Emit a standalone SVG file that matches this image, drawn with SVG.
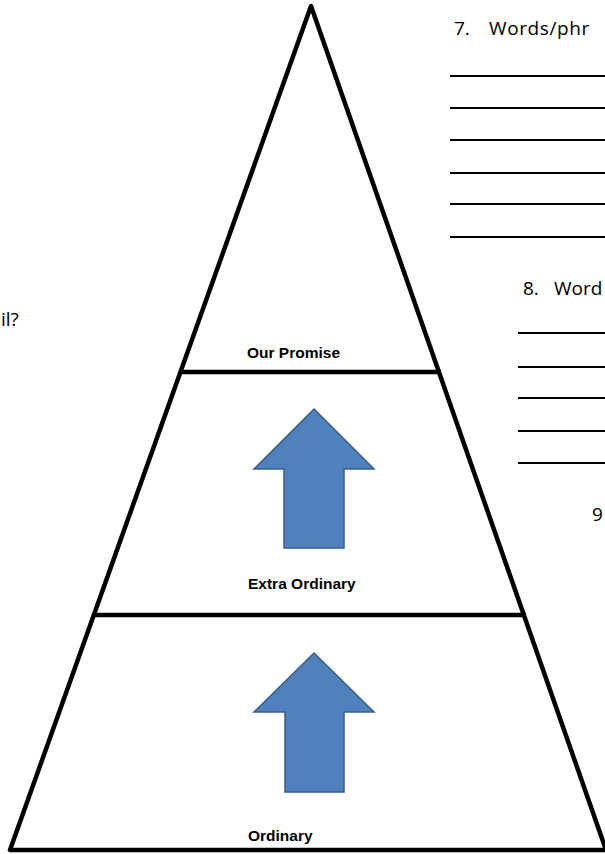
<svg xmlns="http://www.w3.org/2000/svg" width="605" height="854" viewBox="0 0 605 854">
  <style>
    .edge { fill: none; stroke: #000; stroke-width: 4.5; stroke-linejoin: round; }
    .tier { stroke: #000; stroke-width: 4.5; }
    .rule { stroke: #000; stroke-width: 2; }
    .arrow { fill: #4F81BD; stroke: #385D8A; stroke-width: 1.5; }
    .lbl { font-family: "Liberation Sans", Arial, sans-serif; font-weight: bold; font-size: 15.5px; fill: #000; }
    .q { font-family: "Open Sans", "Liberation Sans", sans-serif; font-size: 19px; fill: #000; }
  </style>
  <rect width="605" height="854" fill="#fff"/>

  <g id="pyramid">
    <polygon class="edge" points="311,6 10,850 606,850"/>
    <line class="tier" x1="180" y1="372" x2="441" y2="372"/>
    <line class="tier" x1="94" y1="615" x2="526" y2="615"/>
  </g>

  <g id="tier-our-promise">
    <text class="lbl" x="247" y="358">Our Promise</text>
  </g>

  <g id="tier-extra-ordinary">
    <polygon class="arrow" points="314,409 374,469 344,469 344,548 284,548 284,469 254,469"/>
    <text class="lbl" x="248" y="589">Extra Ordinary</text>
  </g>

  <g id="tier-ordinary">
    <polygon class="arrow" points="314,653 374,712 344,712 344,792 285,792 285,712 254,712"/>
    <text class="lbl" x="248" y="841">Ordinary</text>
  </g>

  <g id="question-email">
    <text class="q" x="1" y="326">il?</text>
  </g>

  <g id="question-7">
    <text class="q" x="454" y="35">7.</text>
    <text class="q" x="489" y="35" letter-spacing="0.6">Words/phr</text>
    <line class="rule" x1="450" y1="76" x2="605" y2="76"/>
    <line class="rule" x1="450" y1="108" x2="605" y2="108"/>
    <line class="rule" x1="450" y1="140" x2="605" y2="140"/>
    <line class="rule" x1="450" y1="173" x2="605" y2="173"/>
    <line class="rule" x1="450" y1="204" x2="605" y2="204"/>
    <line class="rule" x1="450" y1="237" x2="605" y2="237"/>
  </g>

  <g id="question-8">
    <text class="q" x="523" y="295">8.</text>
    <text class="q" x="554" y="295">Word</text>
    <line class="rule" x1="518" y1="333" x2="605" y2="333"/>
    <line class="rule" x1="518" y1="367" x2="605" y2="367"/>
    <line class="rule" x1="518" y1="398" x2="605" y2="398"/>
    <line class="rule" x1="518" y1="431" x2="605" y2="431"/>
    <line class="rule" x1="518" y1="463" x2="605" y2="463"/>
  </g>

  <g id="question-9">
    <text class="q" x="592" y="521">9</text>
  </g>
</svg>
